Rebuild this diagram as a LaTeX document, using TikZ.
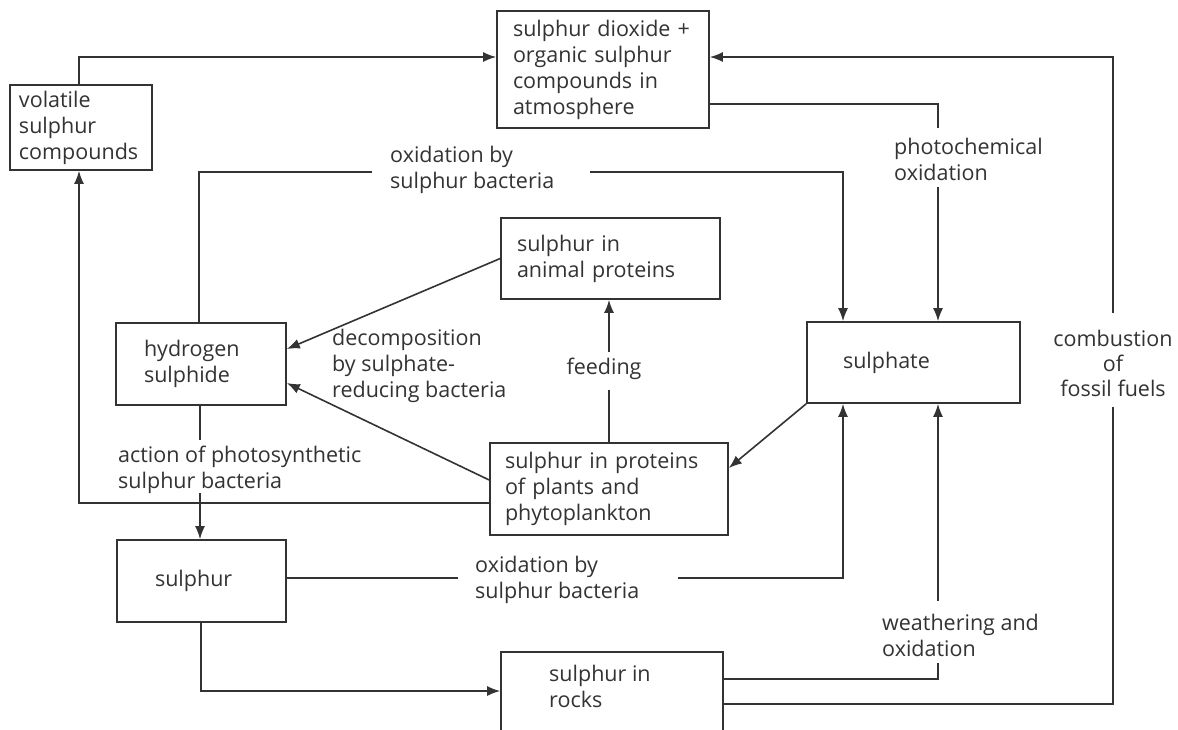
\documentclass[tikz,border=0pt]{standalone}
\usepackage{fontspec}
\setmainfont{Open Sans}
\usetikzlibrary{arrows.meta}
\definecolor{ink}{HTML}{333333}
\begin{document}
\begin{tikzpicture}[x=1pt,y=-1pt,
  every node/.style={font=\fontsize{21.5}{26}\selectfont, text=ink},
  box/.style={draw=ink, line width=1.6pt, align=left, inner ysep=0pt},
  lbl/.style={align=left, inner sep=0pt, anchor=west},
  conn/.style={draw=ink, line width=1.6pt},
  arr/.style={conn, -{Latex[length=13pt,width=10pt]}}]
\useasboundingbox (0,0) rectangle (1178,729);
\clip (0,0) rectangle (1178,729);
\fill[white] (0,0) rectangle (1178,729);

% boxes
\node[box, minimum width=142pt, minimum height=85pt, text width=124pt, inner xsep=9pt] (vol) at (81,127.5) {volatile\\sulphur\\compounds};
\node[box, minimum width=212pt, minimum height=117pt, text width=180pt, inner xsep=16pt] (atm) at (603,69.5) {sulphur dioxide +\\organic sulphur\\compounds in\\atmosphere};
\node[box, minimum width=219pt, minimum height=81pt, text width=187pt, inner xsep=16pt] (ani) at (610.5,258.5) {sulphur in\\animal proteins};
\node[box, minimum width=170pt, minimum height=82pt, text width=114pt, inner xsep=28pt] (hs) at (201,364) {hydrogen\\sulphide};
\node[box, minimum width=213pt, minimum height=81pt, text width=141pt, inner xsep=36pt] (sul) at (913.5,362.5) {sulphate};
\node[box, minimum width=238pt, minimum height=92pt, text width=208pt, inner xsep=15pt] (pla) at (609,489) {sulphur in proteins\\of plants and\\phytoplankton};
\node[box, minimum width=169pt, minimum height=82pt, text width=93pt, inner xsep=38pt] (sr) at (201.5,581) {sulphur};
\node[draw=ink, line width=1.6pt, minimum width=222pt, minimum height=110pt, anchor=north, inner sep=0pt] (rocks) at (612,651) {};
\node[lbl] (rockst) at (549,686) {sulphur in\\rocks};

% labels
\node[lbl] (ox1) at (390,170) {oxidation by\\sulphur bacteria};
\node[lbl] (photo) at (894,159) {photochemical\\oxidation};
\node[lbl] (decomp) at (332,366) {decomposition\\by sulphate-\\reducing bacteria};
\node[inner sep=0pt] (feed) at (604,369) {feeding};
\node[lbl] (action) at (118,470) {action of photosynthetic\\sulphur bacteria};
\node[lbl] (ox2) at (475,580) {oxidation by\\sulphur bacteria};
\node[lbl] (weath) at (882,635) {weathering and\\oxidation};
\node[align=center, inner sep=0pt, font=\fontsize{21.5}{25}\selectfont] (comb) at (1113,363) {combustion\\of\\fossil fuels};

% coordinates
\coordinate (c1) at (79,57);
\coordinate (c2a) at (938,104);
\coordinate (c2b) at (938,128);
\coordinate (c2c) at (938,187);
\coordinate (c3a) at (199,172);
\coordinate (c3b) at (372,172);
\coordinate (c3c) at (590,172);
\coordinate (c3d) at (843,172);
\coordinate (c4) at (0,349);
\coordinate (c5s) at (0,480);
\coordinate (c5) at (0,383);
\coordinate (c6a) at (609,390);
\coordinate (c6b) at (609,352);
\coordinate (c7) at (0,468);
\coordinate (c8a) at (200,440);
\coordinate (c8b) at (200,493);
\coordinate (c9) at (79,503);
\coordinate (c10a) at (458,578);
\coordinate (c10b) at (678,578);
\coordinate (c10c) at (843,578);
\coordinate (c11) at (201,691);
\coordinate (c12a) at (938,679);
\coordinate (c12b) at (938,663);
\coordinate (c12c) at (938,601);
\coordinate (c13a) at (1113,704);
\coordinate (c13b) at (1113,407);
\coordinate (c13c) at (1113,313);
\coordinate (c13d) at (1113,57);

% connectors
\draw[arr] (vol.north -| c1) -- (c1) -- (atm.west |- c1);
\draw[conn] (atm.east |- c2a) -- (c2a) -- (c2b);
\draw[arr] (c2c) -- (sul.north -| c2c);
\draw[conn] (hs.north -| c3a) -- (c3a) -- (c3b);
\draw[arr] (c3c) -- (c3d) -- (sul.north -| c3d);
\draw[arr] (ani.west) -- (hs.east |- c4);
\draw[arr] (pla.west |- c5s) -- (hs.east |- c5);
\draw[conn] (pla.north -| c6a) -- (c6a);
\draw[arr] (c6b) -- (ani.south -| c6b);
\draw[arr] (sul.south west) -- (pla.east |- c7);
\draw[conn] (hs.south -| c8a) -- (c8a);
\draw[arr] (c8b) -- (sr.north -| c8b);
\draw[arr] (pla.west |- c9) -- (c9) -- (vol.south -| c9);
\draw[conn] (sr.east |- c10a) -- (c10a);
\draw[arr] (c10b) -- (c10c) -- (sul.south -| c10c);
\draw[arr] (sr.south -| c11) -- (c11) -- (rocks.west |- c11);
\draw[conn] (rocks.east |- c12a) -- (c12a) -- (c12b);
\draw[arr] (c12c) -- (sul.south -| c12c);
\draw[conn] (rocks.east |- c13a) -- (c13a) -- (c13b);
\draw[arr] (c13c) -- (c13d) -- (atm.east |- c13d);
\end{tikzpicture}
\end{document}
